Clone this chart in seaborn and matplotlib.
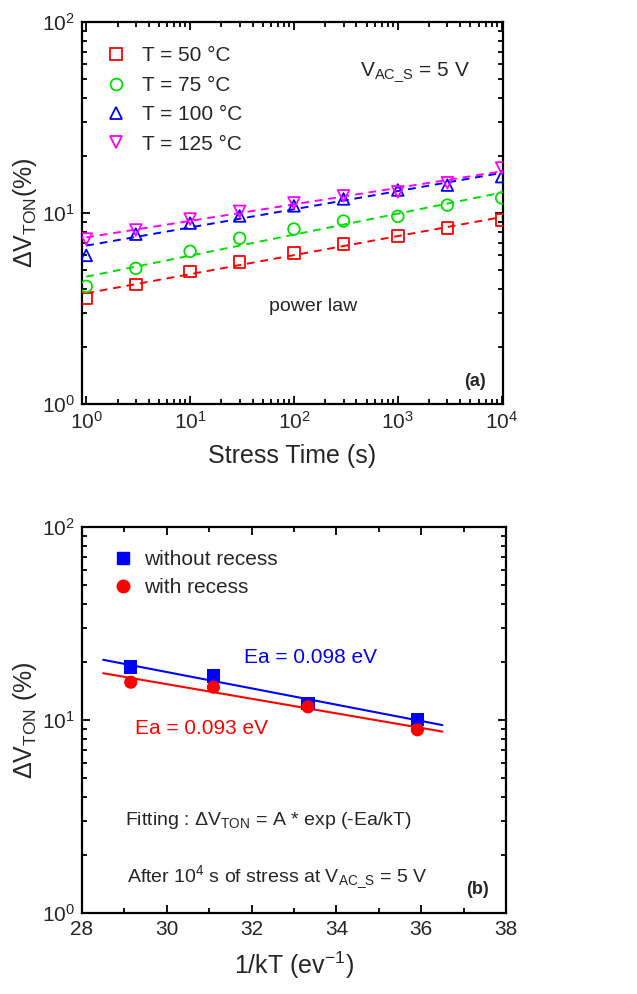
import numpy as np
import pandas as pd
import seaborn as sns
import matplotlib
matplotlib.use("Agg")
import matplotlib.pyplot as plt
from matplotlib.ticker import LogLocator, NullFormatter, MultipleLocator

sns.set_theme(style="ticks")
plt.rcParams['font.family'] = ['Liberation Sans', 'DejaVu Sans']
plt.rcParams['mathtext.fontset'] = 'custom'
plt.rcParams['mathtext.rm'] = 'Liberation Sans'
plt.rcParams['mathtext.it'] = 'Liberation Sans:italic'
plt.rcParams['mathtext.bf'] = 'Liberation Sans:bold'

# ---------- data panel (a) ----------
stress_time = [1, 3, 10, 30, 100, 300, 1000, 3000, 10000]
temps_a = ["T = 50 °C", "T = 75 °C", "T = 100 °C", "T = 125 °C"]
dv_50 = [3.57, 4.23, 4.95, 5.52, 6.16, 6.87, 7.57, 8.34, 9.19]
dv_75 = [4.13, 5.13, 6.3, 7.38, 8.24, 9.08, 9.6, 11.0, 12.0]
dv_100 = [6.0, 7.75, 8.85, 9.65, 10.9, 11.85, 13.2, 14.0, 15.5]
dv_125 = [7.3, 8.15, 9.3, 10.2, 11.3, 12.3, 12.9, 14.4, 17.2]

# ---------- data panel (b) ----------
inv_kT = [29.15, 31.10, 33.33, 35.91]
dv_without = [18.8, 16.9, 12.2, 10.1]
dv_with = [15.7, 14.8, 11.7, 8.9]
groups_b = ["without recess", "with recess"]

colors_a = ["#FF0000", "#00E000", "#0000FF", "#FF00FF"]
markers_a = ["s", "o", "^", "v"]
colors_b = ["#0000FF", "#FF0000"]
markers_b = ["s", "o"]

fig = plt.figure(figsize=(6.37, 9.94), dpi=100)
ax1 = fig.add_axes([82/637, 1-404/994, (503-82)/637, (404-22)/994])
ax2 = fig.add_axes([82/637, 1-913/994, (506-82)/637, (913-527)/994])

# ---- panel (a) ----
df_a = pd.DataFrame({
    "t": stress_time * 4,
    "dv": dv_50 + dv_75 + dv_100 + dv_125,
    "T": sum([[lab] * len(stress_time) for lab in temps_a], []),
})
t_fit = np.logspace(0, 4, 50)
for lab, col in zip(temps_a, colors_a):
    sub = df_a[df_a["T"] == lab]
    p = np.polyfit(np.log10(sub["t"]), np.log10(sub["dv"]), 1)
    ax1.plot(t_fit, 10 ** np.polyval(p, np.log10(t_fit)), ls=(0, (4, 3)),
             color=col, lw=1.4, zorder=2)
sns.scatterplot(data=df_a, x="t", y="dv", hue="T", style="T",
                palette=dict(zip(temps_a, colors_a)),
                markers=dict(zip(temps_a, markers_a)),
                s=70, linewidth=1.3, ax=ax1, zorder=3, legend=False)
ec = [colors_a[temps_a.index(lab)] for lab in df_a["T"]]
ax1.collections[0].set_facecolor("none")
ax1.collections[0].set_edgecolor(ec)

ax1.set_xscale("log")
ax1.set_yscale("log")
ax1.set_xlim(0.91, 10300)
ax1.set_ylim(1, 100)
ax1.set_xlabel("Stress Time (s)", fontsize=18, labelpad=8)
ax1.set_ylabel(r"$\Delta$V$_{\rm TON}$(%)", fontsize=18, labelpad=2)

handles = [plt.Line2D([], [], ls="none", marker=m, mfc="none", mec=c, ms=8.5, mew=1.3)
           for m, c in zip(markers_a, colors_a)]
ax1.legend(handles, temps_a, loc="upper left", bbox_to_anchor=(0.0, 0.985),
           frameon=False, fontsize=15, handletextpad=0.5, labelspacing=0.5,
           borderaxespad=0.5, handlelength=1.5)
ax1.text(0.79, 0.87, r"V$_{\rm AC\_S}$ = 5 V", transform=ax1.transAxes,
         fontsize=15, ha="center", va="center")
ax1.text(0.55, 0.255, "power law", transform=ax1.transAxes, fontsize=14,
         ha="center", va="center")
ax1.text(0.96, 0.06, "(a)", transform=ax1.transAxes, fontsize=13,
         fontweight="bold", ha="right", va="center")

# ---- panel (b) ----
df_b = pd.DataFrame({
    "x": inv_kT * 2,
    "dv": dv_without + dv_with,
    "g": [groups_b[0]] * 4 + [groups_b[1]] * 4,
})
x_fit = np.linspace(28.5, 36.5, 20)
for lab, col in zip(groups_b, colors_b):
    sub = df_b[df_b["g"] == lab]
    p = np.polyfit(sub["x"], np.log(sub["dv"]), 1)
    ax2.plot(x_fit, np.exp(np.polyval(p, x_fit)), color=col, lw=1.5, zorder=2)
sns.scatterplot(data=df_b, x="x", y="dv", hue="g", style="g",
                palette=dict(zip(groups_b, colors_b)),
                markers=dict(zip(groups_b, markers_b)),
                s=90, linewidth=0, ax=ax2, zorder=3, legend=False)
ax2.set_yscale("log")
ax2.set_xlim(28, 38)
ax2.set_ylim(1, 100)
ax2.xaxis.set_major_locator(MultipleLocator(2))
ax2.xaxis.set_minor_locator(MultipleLocator(1))
ax2.set_xlabel(r"1/kT (ev$^{-1}$)", fontsize=18, labelpad=8)
ax2.set_ylabel(r"$\Delta$V$_{\rm TON}$ (%)", fontsize=18, labelpad=2)
handles_b = [plt.Line2D([], [], ls="none", marker=m, mfc=c, mec=c, ms=9)
             for m, c in zip(markers_b, colors_b)]
ax2.legend(handles_b, groups_b, loc="upper left", bbox_to_anchor=(0.0, 1.005),
           frameon=False, fontsize=15, handletextpad=0.3, labelspacing=0.45,
           borderaxespad=0.8, handlelength=1.5)
ax2.text(0.54, 0.663, "Ea = 0.098 eV", transform=ax2.transAxes, fontsize=15,
         color="#0000FF", ha="center", va="center")
ax2.text(0.283, 0.477, "Ea = 0.093 eV", transform=ax2.transAxes, fontsize=15,
         color="#FF0000", ha="center", va="center")
ax2.text(0.44, 0.24, r"Fitting : $\Delta$V$_{\rm TON}$ = A * exp (-Ea/kT)",
         transform=ax2.transAxes, fontsize=14, ha="center", va="center")
ax2.text(0.46, 0.093, r"After 10$^{4}$ s of stress at V$_{\rm AC\_S}$ = 5 V",
         transform=ax2.transAxes, fontsize=14, ha="center", va="center")
ax2.text(0.96, 0.06, "(b)", transform=ax2.transAxes, fontsize=13,
         fontweight="bold", ha="right", va="center")

for ax in (ax1, ax2):
    ax.yaxis.set_major_locator(LogLocator(base=10, numticks=10))
    ax.yaxis.set_minor_locator(LogLocator(base=10, subs=np.arange(2, 10), numticks=10))
    ax.yaxis.set_minor_formatter(NullFormatter())
    ax.tick_params(which="both", direction="in", top=True, right=True,
                   labelsize=15, color="black", width=1.3, pad=5)
    ax.tick_params(which="major", length=6)
    ax.tick_params(which="minor", length=3.5)
    for sp in ax.spines.values():
        sp.set_linewidth(1.6)
        sp.set_color("black")
ax1.xaxis.set_major_locator(LogLocator(base=10, numticks=10))
ax1.xaxis.set_minor_locator(LogLocator(base=10, subs=np.arange(2, 10), numticks=10))
ax1.xaxis.set_minor_formatter(NullFormatter())

fig.savefig("out.png", dpi=100)
